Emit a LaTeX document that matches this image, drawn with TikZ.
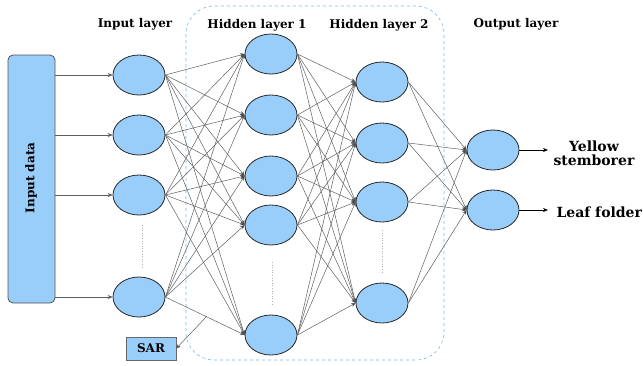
\documentclass[tikz,border=0pt]{standalone}
\usepackage{fontspec}
\setmainfont{DejaVu Serif}
\usetikzlibrary{shapes.geometric,arrows.meta}
\definecolor{nodefill}{RGB}{153,206,250}
\definecolor{nodeline}{RGB}{40,40,40}
\definecolor{linkgray}{RGB}{95,95,95}
\definecolor{groupline}{RGB}{120,185,235}
\tikzset{
  neuron/.style={ellipse, draw=nodeline, line width=0.8pt, fill=nodefill,
    minimum width=52pt, minimum height=40pt, inner sep=0pt},
  link/.style={draw=linkgray, line width=0.5pt,
    -{Stealth[length=4.5pt,width=4pt,fill=black]}},
  feed/.style={draw=linkgray, line width=0.6pt,
    -{Stealth[length=5pt,width=4pt,fill=black]}},
  title/.style={font=\fontsize{12}{14}\selectfont\bfseries},
  outlabel/.style={font=\fontsize{14}{16}\selectfont\bfseries, align=center},
  gap/.style={draw=gray!60, dotted, line width=0.6pt}
}
\begin{document}
\begin{tikzpicture}[x=1pt,y=-1pt]
\useasboundingbox (0,0) rectangle (643,365);

% hidden-layer group frame
\draw[groupline, dashed, line width=0.6pt, rounded corners=28pt]
  (186,6) rectangle (444,360);

% column titles
\node[title] (tin)  at (135,24) {Input layer};
\node[title] (th1)  at (257,25) {Hidden layer 1};
\node[title] (th2)  at (379,25) {Hidden layer 2};
\node[title] (tout) at (516,24) {Output layer};

% input data block
\node[draw=nodeline!80, line width=0.8pt, fill=nodefill, rounded corners=5pt,
  minimum width=47pt, minimum height=248pt, inner sep=0pt] (data) at (31.5,179) {};
\node[rotate=90, font=\fontsize{12}{14}\selectfont\bfseries] (datalbl) at (31,178) {Input data};

% input layer
\node[neuron] (i1) at (139,75) {};
\node[neuron] (i2) at (139,135) {};
\node[neuron] (i3) at (139,195) {};
\node[neuron] (i4) at (139,297) {};

% hidden layer 1
\node[neuron] (a1) at (271,54) {};
\node[neuron] (a2) at (271,115) {};
\node[neuron] (a3) at (271,176) {};
\node[neuron] (a4) at (271,225) {};
\node[neuron] (a5) at (271,335) {};

% hidden layer 2
\node[neuron] (b1) at (382,82) {};
\node[neuron] (b2) at (382,143) {};
\node[neuron] (b3) at (382,202) {};
\node[neuron] (b4) at (382,303) {};

% output layer
\node[neuron] (o1) at (493,150) {};
\node[neuron] (o2) at (493,210) {};

% omitted units
\coordinate (gi1) at (142,225); \coordinate (gi2) at (142,268);
\coordinate (ga1) at (272,262); \coordinate (ga2) at (272,305);
\coordinate (gb1) at (382,230); \coordinate (gb2) at (382,272);
\draw[gap] (gi1) -- (gi2);
\draw[gap] (ga1) -- (ga2);
\draw[gap] (gb1) -- (gb2);

% data feed
\foreach \k in {1,2,3,4}
  \draw[feed] (data.east |- i\k.west) -- (i\k.west);

% fully connected links
\foreach \s in {1,...,4}
  \foreach \t in {1,...,5}
    \draw[link] (i\s.east) -- (a\t.west);
\foreach \s in {1,...,5}
  \foreach \t in {1,...,4}
    \draw[link] (a\s.east) -- (b\t.west);
\foreach \s in {1,...,4}
  \foreach \t in {1,2}
    \draw[link] (b\s.east) -- (o\t.west);

% outputs
\coordinate (y1) at (548,150);
\coordinate (y2) at (548,210);
\draw[feed, draw=black] (o1.east) -- (y1);
\draw[feed, draw=black] (o2.east) -- (y2);
\node[outlabel, anchor=west] (ys) at (550,153) {Yellow\\[-2pt]stemborer};
\node[outlabel, anchor=west] (lf) at (553,212) {Leaf folder};

% SAR block
\node[draw=nodeline!70, line width=0.6pt, fill=nodefill, minimum width=50pt,
  minimum height=23pt, inner sep=0pt, font=\fontsize{12}{13}\selectfont\bfseries]
  (sar) at (151,348.5) {SAR};
\coordinate (sarsrc) at (207,316);
\draw[link] (sarsrc) -- (sar.east);
\end{tikzpicture}
\end{document}
